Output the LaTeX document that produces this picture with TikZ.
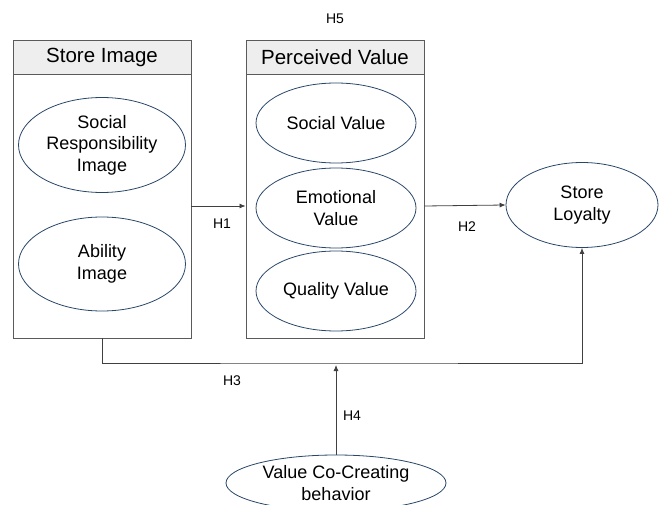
\documentclass[tikz,border=0pt]{standalone}
\usepackage{fontspec}
\setmainfont{Liberation Sans}
\usetikzlibrary{shapes.geometric,arrows.meta}
\definecolor{ellc}{RGB}{40,70,105}
\definecolor{framec}{RGB}{90,90,90}
\definecolor{headc}{RGB}{238,238,238}
\begin{document}
\begin{tikzpicture}[x=1pt,y=-1pt,
  frame/.style={draw=framec, line width=0.9pt, rectangle, inner sep=0pt},
  head/.style={frame, fill=headc, minimum width=178pt, minimum height=34pt, font=\fontsize{20.5}{24}\selectfont},
  body/.style={frame, minimum width=178pt, minimum height=264pt},
  ell/.style={ellipse, draw=ellc, line width=0.8pt, inner sep=0pt, align=center, font=\fontsize{18}{21.5}\selectfont},
  lab/.style={font=\fontsize{14}{16}\selectfont, inner sep=0pt},
  conn/.style={draw=black!75, line width=0.8pt},
  arr/.style={conn, -{Latex[length=6pt,width=5pt]}}
]
\useasboundingbox (0,0) rectangle (659,505);
% Store Image
\node[body] (sibody) at (102,206) {};
\node[head] (sihead) at (102,57) {Store Image};
\node[ell, minimum width=167pt, minimum height=95pt] (sr) at (102,145) {Social\\Responsibility\\Image};
\node[ell, minimum width=167pt, minimum height=94pt] (ab) at (102,264) {Ability\\Image};
% Perceived Value
\node[body] (pvbody) at (335,206) {};
\node[head] (pvhead) at (335,57) {Perceived Value};
\node[ell, minimum width=160pt, minimum height=80pt] (sv) at (336,123) {Social Value};
\node[ell, minimum width=160pt, minimum height=80pt] (ev) at (336,208) {Emotional\\Value};
\node[ell, minimum width=160pt, minimum height=80pt] (qv) at (336,291) {Quality Value};
% Store Loyalty
\node[ell, minimum width=152pt, minimum height=85pt] (sl) at (582,205) {Store\\Loyalty};
% Value Co-Creating
\node[ell, minimum width=220pt, minimum height=56pt] (vc) at (336,483) {Value Co-Creating\\behavior};
\coordinate (h3) at (336,363);
% connectors
\draw[arr] (sibody.east) -- (pvbody.west);
\draw[arr] (pvbody.east) -- (sl.west);
\draw[arr] (sibody.south) |- (h3) -| (sl.south);
\draw[arr, shorten >=2pt] (vc.north) -- (h3);
% labels
\node[lab] (l1) at (222,224) {H1};
\node[lab] (l2) at (467,227) {H2};
\node[lab] (l3) at (232,381) {H3};
\node[lab] (l4) at (352,416) {H4};
\node[lab] (l5) at (335,19) {H5};
\end{tikzpicture}
\end{document}
